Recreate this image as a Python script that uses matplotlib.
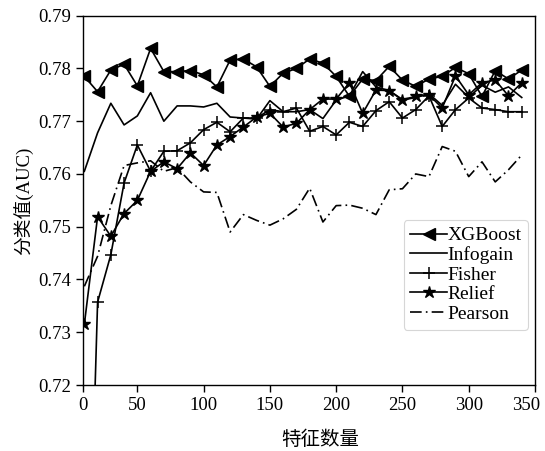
import matplotlib
matplotlib.use("Agg")
import matplotlib.pyplot as plt
from matplotlib.transforms import ScaledTranslation

plt.rcParams['font.family'] = ['Liberation Serif', 'Noto Sans CJK SC']

x = list(range(10, 350, 10))
xtick_pos = [9, 50, 100, 150, 200, 250, 300, 350]
xtick_labels = ['0', '50', '100', '150', '200', '250', '300', '350']
yticks = [0.72, 0.73, 0.74, 0.75, 0.76, 0.77, 0.78, 0.79]

xgboost = [0.7785, 0.7756, 0.7797, 0.7808, 0.7767, 0.7838, 0.7794, 0.7794, 0.7796, 0.7788,
           0.7765, 0.7816, 0.7818, 0.7803, 0.7766, 0.7791, 0.7800, 0.7818, 0.7810, 0.7785,
           0.7747, 0.7780, 0.7777, 0.7804, 0.7778, 0.7766, 0.7780, 0.7785, 0.7802, 0.7790,
           0.7747, 0.7796, 0.7780, 0.7797]
infogain = [0.7605, 0.7678, 0.7734, 0.7693, 0.7710, 0.7754, 0.7700, 0.7729, 0.7729, 0.7727,
            0.7734, 0.7708, 0.7706, 0.7704, 0.7739, 0.7718, 0.7718, 0.7722, 0.7705, 0.7740,
            0.7748, 0.7794, 0.7765, 0.7758, 0.7740, 0.7745, 0.7752, 0.7730, 0.7770, 0.7745,
            0.7768, 0.7755, 0.7765, 0.7745]
fisher = [0.6500, 0.7357, 0.7447, 0.7583, 0.7655, 0.7605, 0.7643, 0.7644, 0.7659, 0.7684,
          0.7698, 0.7680, 0.7706, 0.7706, 0.7722, 0.7718, 0.7725, 0.7681, 0.7690, 0.7674,
          0.7698, 0.7690, 0.7720, 0.7737, 0.7706, 0.7722, 0.7748, 0.7690, 0.7722, 0.7744,
          0.7725, 0.7722, 0.7718, 0.7718]
relief = [0.7315, 0.7519, 0.7482, 0.7525, 0.7550, 0.7605, 0.7623, 0.7610, 0.7640, 0.7616,
          0.7655, 0.7671, 0.7689, 0.7708, 0.7715, 0.7689, 0.7696, 0.7722, 0.7742, 0.7742,
          0.7773, 0.7715, 0.7759, 0.7758, 0.7741, 0.7747, 0.7750, 0.7725, 0.7786, 0.7750,
          0.7773, 0.7778, 0.7748, 0.7773]
pearson = [0.7387, 0.7444, 0.7540, 0.7616, 0.7621, 0.7625, 0.7605, 0.7612, 0.7585, 0.7566,
           0.7565, 0.7490, 0.7523, 0.7512, 0.7503, 0.7515, 0.7533, 0.7573, 0.7509, 0.7540,
           0.7541, 0.7535, 0.7523, 0.7570, 0.7572, 0.7600, 0.7595, 0.7652, 0.7643, 0.7595,
           0.7623, 0.7585, 0.7608, 0.7636]

fig = plt.figure(figsize=(5.45, 4.51), dpi=100)
ax = fig.add_axes([83/545, 1 - 385/451, (535 - 83)/545, (385 - 15.7)/451])

lw = 1.2
ax.plot(x, xgboost, color='black', lw=lw, marker='<', markersize=8, label='XGBoost')
ax.plot(x, infogain, color='black', lw=lw, label='Infogain')
ax.plot(x, fisher, color='black', lw=lw, marker='+', markersize=9, markeredgewidth=1.1, label='Fisher')
ax.plot(x, relief, color='black', lw=lw, marker='*', markersize=9, label='Relief')
ax.plot(x, pearson, color='black', lw=lw, linestyle=(0, (7, 2.5, 1, 2.5)), label='Pearson')

ax.set_xlim(9, 350)
ax.set_ylim(0.72, 0.79)
ax.set_xticks(xtick_pos)
ax.set_xticklabels(xtick_labels)
ax.set_yticks(yticks)
ax.set_yticklabels([f'{v:.2f}' for v in yticks])
ax.tick_params(direction='out', labelsize=13.5, length=5, width=1)
for s in ax.spines.values():
    s.set_linewidth(1.0)

# nudge the last x tick label inward like the reference
last = ax.get_xticklabels()[-1]
last.set_transform(last.get_transform() + ScaledTranslation(-9/100, 0, fig.dpi_scale_trans))

ax.set_xlabel('特征数量', fontsize=14)
ax.xaxis.set_label_coords(0.524, -0.122)
ax.set_ylabel('分类值(AUC)', fontsize=13.5, labelpad=4)

leg = ax.legend(loc='upper right', bbox_to_anchor=(0.985, 0.447), borderaxespad=0,
                fontsize=14, handlelength=1.9, handletextpad=0.0, labelspacing=0.1,
                borderpad=0.35, frameon=True, fancybox=True)
leg.get_frame().set_edgecolor('#cccccc')
leg.get_frame().set_linewidth(0.8)

fig.savefig('out.png', dpi=100)
